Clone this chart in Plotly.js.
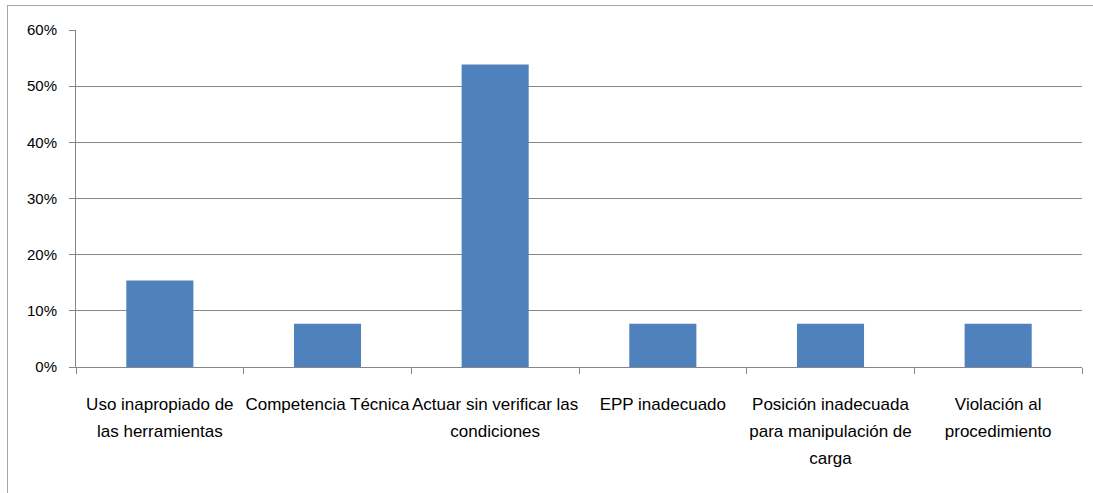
<!DOCTYPE html>
<html><head><meta charset="utf-8">
<script src="https://cdn.plot.ly/plotly-3.0.1.min.js"></script>
<style>
html,body{margin:0;padding:0;background:#fff;}
#frame{position:absolute;left:7px;top:5px;width:1100px;height:520px;border:1px solid #a6a6a6;box-sizing:border-box;}
#chart{position:absolute;left:0;top:0;width:1093px;height:493px;}
</style></head>
<body>
<div id="frame"></div>
<div id="chart"></div>
<script>
const categories = [
  "Uso inapropiado de<br>las herramientas",
  "Competencia Técnica",
  "Actuar sin verificar las<br>condiciones",
  "EPP inadecuado",
  "Posición inadecuada<br>para manipulación de<br>carga",
  "Violación al<br>procedimiento"
];
const values = [0.1538, 0.0769, 0.5385, 0.0769, 0.0769, 0.0769];
const yTicks = [0, 0.1, 0.2, 0.3, 0.4, 0.5, 0.6];
const yTickLabels = ["0%", "10%", "20%", "30%", "40%", "50%", "60%"];

const fam = '"Liberation Sans", Arial, sans-serif';

Plotly.newPlot('chart', [{
  type: 'bar',
  x: categories,
  y: values,
  marker: {color: '#4F81BD'},
  width: 0.4,
  hoverinfo: 'none'
}], {
  width: 1093, height: 493,
  margin: {l: 76, r: 11, t: 30, b: 126},
  paper_bgcolor: 'rgba(0,0,0,0)',
  plot_bgcolor: 'rgba(0,0,0,0)',
  font: {family: fam, size: 17, color: '#000'},
  showlegend: false,
  xaxis: {
    type: 'category',
    showline: true, linecolor: '#868686', linewidth: 1,
    ticks: 'outside', tickson: 'boundaries', ticklen: 6, tickcolor: '#868686',
    tickfont: {family: fam, size: 17, color: '#000'}, tickangle: 0,
    showgrid: false, zeroline: false,
    ticklabelstandoff: 22
  },
  yaxis: {
    range: [0, 0.6],
    tickvals: yTicks, ticktext: yTickLabels,
    showline: true, linecolor: '#868686', linewidth: 1,
    ticks: 'outside', ticklen: 6, tickcolor: '#868686',
    showgrid: true, gridcolor: '#868686', gridwidth: 1,
    zeroline: false,
    tickfont: {family: fam, size: 15, color: '#000'},
    ticklabelstandoff: 9
  }
}, {staticPlot: true}).then(function(gd){
  // widen the line spacing of wrapped category labels
  gd.querySelectorAll('.xtick text tspan.line').forEach(function(t){
    const dy = t.getAttribute('dy');
    if (dy && dy.endsWith('em')) {
      const v = parseFloat(dy);
      if (v) t.setAttribute('dy', (v * 1.22).toFixed(3) + 'em');
    }
  });
});
</script>
</body></html>
